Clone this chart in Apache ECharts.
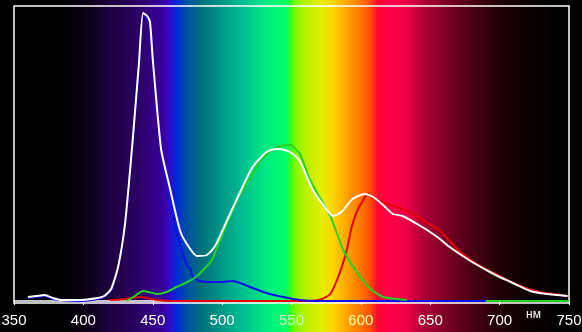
<!DOCTYPE html>
<html><head><meta charset="utf-8">
<script src="https://cdn.jsdelivr.net/npm/echarts@6/dist/echarts.min.js"></script>
<style>html,body{margin:0;padding:0;background:#000}#c{width:582px;height:332px}</style>
</head><body><div id="c"></div>
<script>
// x axis ticks (nm)
const xTicks = [350, 400, 450, 500, 550, 600, 650, 700, 750];
const unitLabel = 'нм';

// White (total) spectrum
const whiteX = [360,366,372,378,384,398,410,415,420,425,430,435,440,443,446,448,450,456,462,470,477,482,489,495,503,513,522,532,539,545,550,556,565,574,580,586,594,603,609,616,623,630,643,652,657,664,679,693,700,708,722,734,749];
const whiteY = [4,5,6,3,1,1,3,5,12,34,77,152,237,288,285,279,242,152,115,69,52,45,46,55,79,109,134,149,152,151,148,140,112,94,85,89,102,107,104,96,87,85,75,67,62,54,40,29,24,19,10,7,5];

// Blue channel
const blueX = [360,366,372,378,384,398,410,415,420,425,430,435,440,443,446,448,450,456,465,470,475,477,479,484,493,499,508,515,522,532,544,556,568,750];
const blueY = [3,4,5,2,1,0,2,4,11,33,76,150,235,286,283,277,240,150,84,55,35,32,24,20,19,19,20,17,13,8,4,1,0,0];

// Green channel
const greenX = [350,431,436,443,447,453,460,467,475,482,489,493,501,507,511,520,527,535,542,549,556,563,571,578,587,597,607,616,633,650,690,750];
const greenY = [null,0,4,10,9,7,9,14,19,25,35,42,69,89,102,122,139,150,155,156,147,122,102,85,52,29,12,4,1,null,0,0];

// Red channel
const redX = [419,430,441,453,462,563,571,578,585,590,593,597,602,605,611,619,626,635,647,657,671,686,700,715,729,744,749];
const redY = [1,2,4,1,0,0,1.5,7,29,52,72,89,102,107,102,97,94,89,79,70,50,35,25,15,9,6,5];

// Background spectrum colours
const spectrumWl = [350,385,400,420,440,458,463,467,475,485,500,515,532,546,550,553,560,572,580,590,603,608,612,620,632,645,660,680,700,720,745];
const spectrumColors = ['#000000','#000000','#0a0012','#1e0040','#2c0066','#3a00a0','#2a10d0','#0028d8','#0050a0','#00707a','#009888','#00c090','#00ec80','#00ff68','#40ff10','#80f800','#b8f000','#e6ee00','#ffd400','#ffa400','#ff6800','#ff4010','#ff0830','#ff0048','#f00048','#b00038','#800028','#480014','#220006','#0c0000','#000000'];

const labelColors = {550: '#c8ffc0', 600: '#ffffb0'};

function pairs(xs, ys) { return xs.map((x, i) => [x, ys[i]]); }

const chart = echarts.init(document.getElementById('c'), null, {renderer: 'canvas'});
const lineSeries = (name, xs, ys, color) => ({
  name, type: 'line', data: pairs(xs, ys), showSymbol: false, symbol: 'none',
  smooth: 0.2, connectNulls: false,
  lineStyle: {color, width: 2}, itemStyle: {color}
});
const option = {
  animation: false,
  backgroundColor: '#000',
  grid: {left: 14, right: 13, top: 6, bottom: 29, show: true, borderColor: '#ffffff', borderWidth: 1.5, backgroundColor: 'transparent', containLabel: false, outerBoundsMode: 'none'},
  xAxis: {
    type: 'value', min: xTicks[0], max: xTicks[xTicks.length - 1], interval: 50,
    axisLine: {show: true, lineStyle: {color: '#ffffff', width: 1.5}},
    axisTick: {show: true, length: 4, lineStyle: {color: '#ffffff', width: 1}},
    axisLabel: {margin: 10, fontSize: 15, fontFamily: 'Liberation Sans, Arial, sans-serif',
      color: (v) => labelColors[v] || '#ffffff', showMinLabel: true, showMaxLabel: true},
    splitLine: {show: false}
  },
  yAxis: {type: 'value', min: -2, max: 295, show: false, splitLine: {show: false}},
  series: [
    lineSeries('red', redX, redY, '#e80000'),
    lineSeries('blue', blueX, blueY, '#1010e8'),
    lineSeries('green', greenX, greenY, '#22d422'),
    lineSeries('white', whiteX, whiteY, '#ffffff')
  ],
  graphic: [{type: 'text', left: 526, top: 309, style: {text: unitLabel, fill: '#ffffff', fontSize: 12, fontFamily: 'Liberation Sans, Arial, sans-serif'}}]
};
chart.setOption(option);
const W = chart.getWidth();
const stops = spectrumWl.map((wl, i) => ({
  offset: Math.min(1, Math.max(0, chart.convertToPixel({xAxisIndex: 0}, wl) / W)),
  color: spectrumColors[i]
}));
chart.setOption({backgroundColor: {type: 'linear', x: 0, y: 0, x2: 1, y2: 0, colorStops: stops}});
</script>
</body></html>
